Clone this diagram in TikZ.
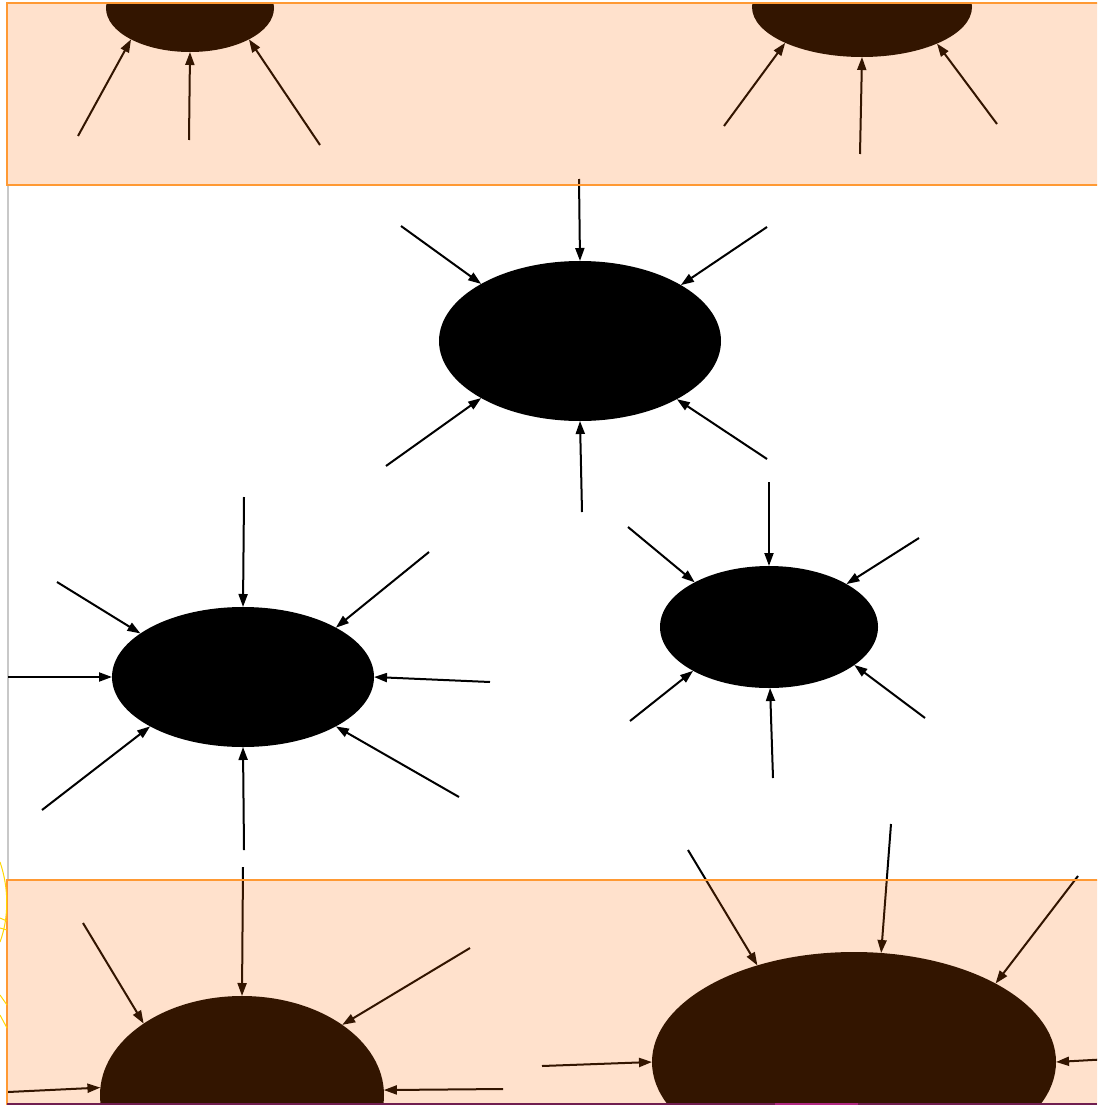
\documentclass[tikz,border=0pt]{standalone}
\usetikzlibrary{shapes.geometric,arrows.meta}
\definecolor{bandorange}{RGB}{255,105,0}
\definecolor{bandedge}{RGB}{255,153,51}
\definecolor{edgegray}{RGB}{200,200,200}
\definecolor{sunyellow}{RGB}{255,215,0}
\definecolor{baseplum}{RGB}{112,30,80}
\definecolor{basemagenta}{RGB}{176,40,130}
\tikzset{
  blob/.style={ellipse, fill=black, draw=none, inner sep=0pt, outer sep=0pt},
  spoke/.style={draw=black, line width=2pt, -{Triangle[length=13pt,width=9pt]}},
  bandfill/.style={fill=bandorange, fill opacity=0.2, draw=none},
  bandline/.style={draw=bandedge, line width=1.8pt}
}
\begin{document}
\begin{tikzpicture}[x=1pt,y=-1pt]
\useasboundingbox (0,0) rectangle (1097,1105);
\clip (0,0) rectangle (1097,1105);
\fill[white] (0,0) rectangle (1097,1105);

% thin gray edge on the left
\draw[edgegray, line width=1.5pt] (8,185) -- (8,880);

% the blobs
\node[blob, minimum width=168pt, minimum height=88pt]  (TL) at (190,8) {};
\node[blob, minimum width=220pt, minimum height=100pt] (TR) at (862,7) {};
\node[blob, minimum width=282pt, minimum height=160pt] (C1) at (580,341) {};
\node[blob, minimum width=262pt, minimum height=140pt] (ML) at (243,677) {};
\node[blob, minimum width=218pt, minimum height=122pt] (MR) at (769,627) {};
\node[blob, minimum width=284pt, minimum height=198pt] (BL) at (242,1095) {};
\node[blob, minimum width=404pt, minimum height=220pt] (BR) at (854,1062) {};

% spokes pointing into each blob
\foreach \n/\x/\y/\a in {a/78/136/208.8, b/189/140/270, c/320/145/332.3}{
  \coordinate (TL-\n) at (\x,\y); \draw[spoke] (TL-\n) -- (TL.\a);}
\foreach \n/\x/\y/\a in {a/724/126/205.7, b/860/154/270, c/997/124/334.9}{
  \coordinate (TR-\n) at (\x,\y); \draw[spoke] (TR-\n) -- (TR.\a);}
\foreach \n/\x/\y/\a in {a/579/179/90, b/401/226/150.1, c/767/227/29.4,
    d/386/466/210, e/767/459/329.7, f/582/512/270}{
  \coordinate (C1-\n) at (\x,\y); \draw[spoke] (C1-\n) -- (C1.\a);}
\foreach \n/\x/\y/\a in {a/244/497/90, b/57/582/157.9, c/429/552/28.0,
    d/8/677/180, e/490/682/0, f/42/810/208.2, g/459/797/332.7, h/244/850/270}{
  \coordinate (ML-\n) at (\x,\y); \draw[spoke] (ML-\n) -- (ML.\a);}
\foreach \n/\x/\y/\a in {a/769/482/90, b/628/527/149.9, c/919/538/29.1,
    d/630/721/210.3, e/925/718/336.1, f/773/778/271.5}{
  \coordinate (MR-\n) at (\x,\y); \draw[spoke] (MR-\n) -- (MR.\a);}
\foreach \n/\x/\y/\a in {a/243/867/90, b/83/923/144.2, c/470/948/35.5,
    d/8/1092/177.6, e/503/1089/2}{
  \coordinate (BL-\n) at (\x,\y); \draw[spoke] (BL-\n) -- (BL.\a);}
\foreach \n/\x/\y/\a in {a/688/850/135.9, b/891/824/76.7, c/1078/876/29.4,
    d/542/1066/180, e/1110/1059/0}{
  \coordinate (BR-\n) at (\x,\y); \draw[spoke] (BR-\n) -- (BR.\a);}

% blank strip above the upper band
\fill[white] (0,0) rectangle (1097,2.5);

% translucent orange bands
\path[bandfill] (7,3) rectangle (1110,185);
\path[bandfill] (7,880) rectangle (1110,1120);
\draw[bandline] (1110,3) -- (7,3) -- (7,185) -- (1110,185);
\draw[bandline] (1110,880) -- (7,880) -- (7,1120);

% base line along the bottom
\draw[baseplum, line width=2pt] (7,1104) -- (1097,1104);
\draw[basemagenta, line width=2pt] (775,1104) -- (858,1104);

% yellow strokes at the left margin
\draw[sunyellow, line width=1pt] (0,862) .. controls (9,888) and (9,918) .. (0,942);
\draw[sunyellow, line width=1pt] (0,918) -- (7,921);
\draw[sunyellow, line width=1pt] (0,928) -- (7,930);
\draw[sunyellow, line width=1pt] (0,995) -- (7,1005);
\draw[sunyellow, line width=1pt] (0,1015) -- (7,1028);
\end{tikzpicture}
\end{document}
